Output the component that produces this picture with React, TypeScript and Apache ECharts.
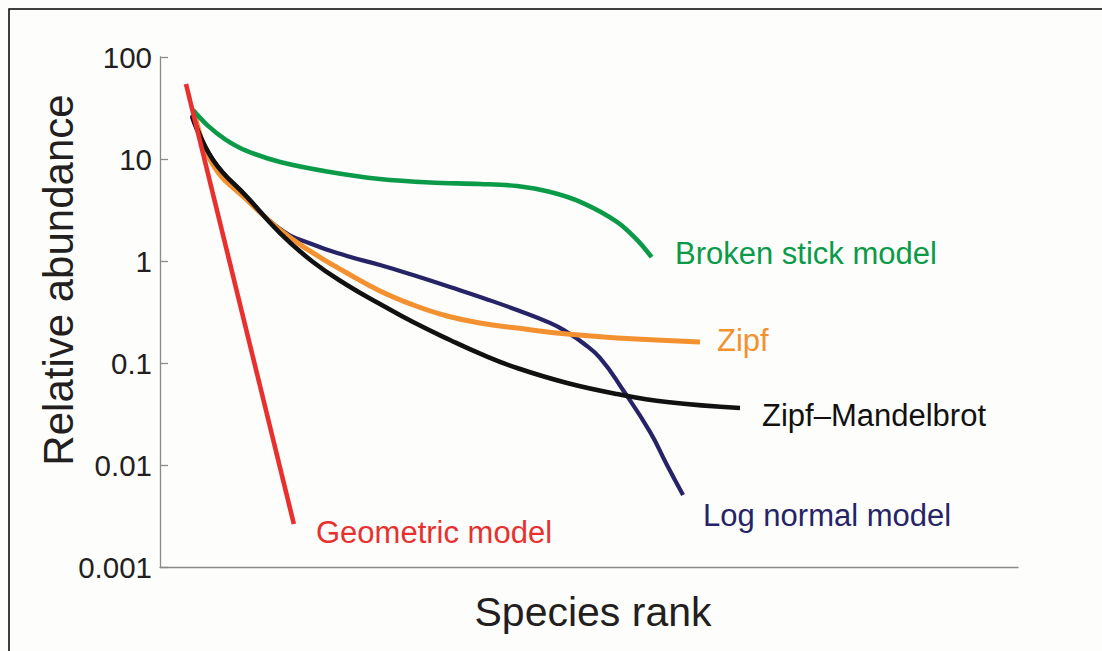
import React, { useEffect, useRef } from "react";
import * as echarts from "echarts";

// ---- Data (species rank, relative abundance) ----
const yTickLabels = ["0.001", "0.01", "0.1", "1", "10", "100"];

const rankGeometric = [3.03, 15.6];
const geometric = [54.4, 0.00264];

const rankBroken = [3.85, 5.5, 7.6, 10.1, 14.0, 19.8, 25.6, 31.5, 37.3, 41.6, 45.5, 49.3, 53.3, 55.6, 57.3];
const brokenStick = [30.2, 21.5, 15.6, 12.0, 9.35, 7.46, 6.37, 5.88, 5.69, 5.43, 4.74, 3.7, 2.41, 1.61, 1.09];

const rankZipf = [4.08, 6.18, 10.14, 13.99, 17.83, 21.79, 25.64, 29.49, 33.45, 37.3, 41.61, 47.44, 53.26, 62.94];
const zipf = [27.0, 8.73, 3.96, 2.01, 1.2, 0.762, 0.508, 0.371, 0.289, 0.247, 0.22, 0.192, 0.176, 0.161];

const rankZM = [3.73, 6.18, 10.14, 13.99, 17.83, 21.79, 25.64, 29.49, 33.8, 37.65, 41.61, 47.44, 53.26, 59.09, 67.6];
const zipfMandelbrot = [27.0, 9.78, 4.24, 1.88, 0.977, 0.582, 0.379, 0.252, 0.168, 0.12, 0.0893, 0.0637, 0.0497, 0.0415, 0.0362];

const rankLogNormal = [3.73, 6.18, 10.14, 13.99, 17.83, 21.79, 25.64, 29.49, 33.8, 37.65, 41.61, 45.45, 47.44, 49.3, 51.28, 53.96, 57.11, 59.09, 60.96];
const logNormal = [25.8, 9.78, 4.24, 2.06, 1.45, 1.12, 0.914, 0.729, 0.556, 0.434, 0.331, 0.247, 0.201, 0.157, 0.112, 0.0543, 0.0211, 0.01, 0.00508];

const seriesNames = ["Log normal model", "Zipf", "Zipf–Mandelbrot", "Broken stick model", "Geometric model"];

const zip = (xs: number[], ys: number[]) => xs.map((x, i) => [x, ys[i]]);

const FONT = "'Liberation Sans', Arial, Helvetica, sans-serif";
const C_GREEN = "#0a9a48";
const C_ORANGE = "#f39130";
const C_BLACK = "#111111";
const C_NAVY = "#262467";
const C_RED = "#e8312f";
const C_TEXT = "#231f20";
const C_AXIS = "#8a8a8a";

export default function App() {
  const ref = useRef<HTMLDivElement>(null);

  useEffect(() => {
    if (!ref.current) return;
    const chart = echarts.init(ref.current, undefined, { renderer: "svg" });

    const lineSeries = (name: string, data: number[][], color: string, width: number, smooth: number | boolean) => ({
      type: "line",
      name,
      data,
      smooth,
      showSymbol: false,
      symbol: "none",
      lineStyle: { color, width, cap: "butt", join: "round" },
      itemStyle: { color },
      z: 3,
    });

    chart.setOption({
      animation: false,
      backgroundColor: "#fdfdfc",
      grid: { left: 160, right: 84, top: 57, bottom: 84, containLabel: false },
      xAxis: {
        type: "value",
        min: 0,
        max: 100,
        axisLine: { show: true, lineStyle: { color: C_AXIS, width: 1.3 } },
        axisTick: { show: false },
        axisLabel: { show: false },
        splitLine: { show: false },
      },
      yAxis: {
        type: "log",
        logBase: 10,
        min: 0.001,
        max: 100,
        axisLine: { show: true, lineStyle: { color: C_AXIS, width: 1.3 } },
        axisTick: { show: true, inside: true, length: 8, lineStyle: { color: C_AXIS, width: 1.3 } },
        axisLabel: {
          show: true,
          margin: 8,
          fontSize: 29.5,
          fontFamily: FONT,
          color: C_TEXT,
          padding: [3, 0, 0, 0],
          formatter: (v: number) => {
            const idx = Math.round(Math.log10(v)) + 3;
            return yTickLabels[idx] ?? "";
          },
        },
        splitLine: { show: false },
      },
      series: [
        lineSeries(seriesNames[0], zip(rankLogNormal, logNormal), C_NAVY, 4.2, 0.5),
        lineSeries(seriesNames[1], zip(rankZipf, zipf), C_ORANGE, 5, 0.45),
        lineSeries(seriesNames[2], zip(rankZM, zipfMandelbrot), C_BLACK, 4.6, 0.45),
        lineSeries(seriesNames[3], zip(rankBroken, brokenStick), C_GREEN, 4.6, 0.35),
        lineSeries(seriesNames[4], zip(rankGeometric, geometric), C_RED, 4.6, false),
      ],
      graphic: [
        {
          type: "rect",
          shape: { x: 9, y: 9, width: 1300, height: 900 },
          style: { fill: "none", stroke: "#000", lineWidth: 1.5 },
          silent: true,
          z: 10,
        },
        {
          type: "text",
          x: 58,
          y: 280,
          rotation: Math.PI / 2,
          style: {
            text: "Relative abundance",
            fontSize: 42,
            fontFamily: FONT,
            fill: C_TEXT,
            align: "center",
            verticalAlign: "middle",
          },
        },
        {
          type: "text",
          x: 593,
          y: 612,
          style: {
            text: "Species rank",
            fontSize: 41,
            fontFamily: FONT,
            fill: C_TEXT,
            align: "center",
            verticalAlign: "middle",
          },
        },
        {
          type: "text",
          x: 675,
          y: 253,
          style: { text: seriesNames[3], fontSize: 31, fontFamily: FONT, fill: C_GREEN, align: "left", verticalAlign: "middle" },
        },
        {
          type: "text",
          x: 717,
          y: 340,
          style: { text: seriesNames[1], fontSize: 31, fontFamily: FONT, fill: C_ORANGE, align: "left", verticalAlign: "middle" },
        },
        {
          type: "text",
          x: 762,
          y: 415,
          style: { text: seriesNames[2], fontSize: 31, fontFamily: FONT, fill: C_BLACK, align: "left", verticalAlign: "middle" },
        },
        {
          type: "text",
          x: 703,
          y: 515,
          style: { text: seriesNames[0], fontSize: 31, fontFamily: FONT, fill: C_NAVY, align: "left", verticalAlign: "middle" },
        },
        {
          type: "text",
          x: 316,
          y: 532,
          style: { text: seriesNames[4], fontSize: 31, fontFamily: FONT, fill: C_RED, align: "left", verticalAlign: "middle" },
        },
      ],
    });

    return () => {
      chart.dispose();
    };
  }, []);

  return (
    <div
      ref={ref}
      style={{ position: "fixed", left: 0, top: 0, width: 1102, height: 651 }}
    />
  );
}
